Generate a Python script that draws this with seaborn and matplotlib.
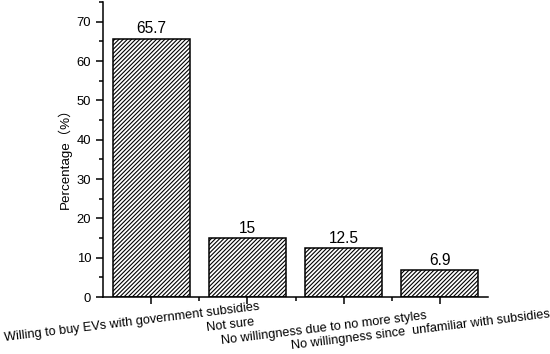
import matplotlib
matplotlib.use("Agg")
import matplotlib.pyplot as plt
import seaborn as sns
import numpy as np
from matplotlib.ticker import MultipleLocator, FixedLocator
import matplotlib.transforms as mtransforms

categories = [
    "Willing to buy EVs with government subsidies",
    "Not sure",
    "No willingness due to no more styles",
    "No willingness since  unfamiliar with subsidies",
]
values = [65.7, 15, 12.5, 6.9]
value_labels = ["65.7", "15", "12.5", "6.9"]
y_label = "Percentage（%）"

sns.set_theme(style="ticks")
FAM = ["Liberation Sans", "Noto Sans CJK SC", "DejaVu Sans"]
plt.rcParams["font.family"] = FAM
plt.rcParams["hatch.linewidth"] = 0.8
plt.rcParams["hatch.color"] = "#222222"

fig = plt.figure(figsize=(5.5, 3.54), dpi=100)
ax = fig.add_axes([103 / 550, 57 / 354, 385 / 550, 295 / 354])

sns.barplot(x=categories, y=values, color="white", edgecolor="black",
            linewidth=1.1, hatch="////////", width=0.8, ax=ax, saturation=1)
for p in ax.patches:
    p.set_facecolor("white")
    p.set_edgecolor("black")

ax.bar_label(ax.containers[0], labels=value_labels, padding=1.5,
             fontsize=11.2, color="black")

ax.set_xlim(-0.5, 3.5)
ax.set_ylim(0, 75)
ax.yaxis.set_major_locator(MultipleLocator(10))
ax.yaxis.set_minor_locator(MultipleLocator(5))
ax.xaxis.set_minor_locator(FixedLocator([0.5, 1.5, 2.5]))

ax.spines["top"].set_visible(False)
ax.spines["right"].set_visible(False)
for s in ("left", "bottom"):
    ax.spines[s].set_linewidth(1.1)
    ax.spines[s].set_color("black")

ax.tick_params(axis="both", which="major", direction="out", length=5,
               width=1.1, color="black", labelsize=9.4, labelcolor="black")
ax.tick_params(axis="both", which="minor", direction="out", length=3,
               width=1.1, color="black")
ax.set_xticklabels([])
ax.set_xlabel("")
ax.set_ylabel(y_label, fontsize=9.6, color="black")
ax.yaxis.set_label_coords(-0.08, 0.48)

# rotated category labels, slightly offset to the left of each tick
offsets = [(-19, -25), (-17, -28), (-20, -31), (-19, -33)]
trans = mtransforms.blended_transform_factory(ax.transData, ax.transAxes)
for i, (lab, (dx, dy)) in enumerate(zip(categories, offsets)):
    ax.annotate(lab, xy=(i, 0), xycoords=trans, xytext=(dx, dy),
                textcoords="offset pixels", ha="center", va="center",
                rotation=7, rotation_mode="anchor", fontsize=9.2,
                color="black", annotation_clip=False)

fig.savefig("out.png", dpi=100)
